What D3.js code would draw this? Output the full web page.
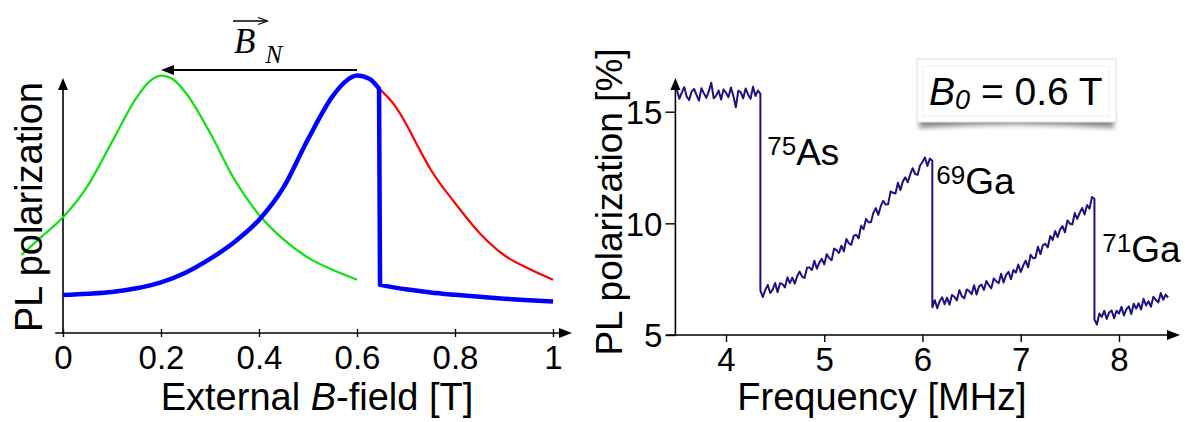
<!DOCTYPE html>
<html><head><meta charset="utf-8">
<script src="https://cdn.jsdelivr.net/npm/d3@7"></script>
<style>
body{margin:0;background:#fff}
svg{display:block}
text{font-family:"Liberation Sans",Arial,sans-serif;fill:#000}
</style>
</head><body>
<svg id="c" width="1185" height="422"></svg>
<script>
// ---------- Left panel data (arbitrary PL units, B in tesla) ----------
const xTicksLeft = [0, 0.2, 0.4, 0.6, 0.8, 1];
const greenCurve = [[-0.085,0.30],[-0.05,0.36],[0,0.445],[0.05,0.565],[0.1,0.735],[0.15,0.905],[0.175,0.965],[0.2,0.99],[0.225,0.975],[0.25,0.925],[0.3,0.77],[0.35,0.59],[0.4,0.455],[0.45,0.36],[0.5,0.29],[0.55,0.243],[0.6,0.205]];
const blueRise = [[0,0.146],[0.05,0.151],[0.1,0.158],[0.15,0.172],[0.2,0.195],[0.25,0.232],[0.3,0.285],[0.35,0.35],[0.4,0.435],[0.45,0.56],[0.5,0.745],[0.55,0.91],[0.575,0.965],[0.6,0.99],[0.625,0.978],[0.645,0.94]];
const blueTail = [[0.647,0.185],[0.7,0.168],[0.75,0.156],[0.8,0.147],[0.85,0.139],[0.9,0.132],[0.95,0.126],[1.0,0.121]];
const redCurve = [[0.645,0.94],[0.675,0.88],[0.7,0.805],[0.725,0.715],[0.75,0.63],[0.8,0.50],[0.85,0.385],[0.9,0.30],[0.95,0.248],[1.0,0.205]];
const shiftArrow = {from:0.6, to:0.2, level:1.012};

// ---------- Right panel data (PL polarization %, frequency MHz) ----------
const xTicksRight = [4,5,6,7,8];
const yTicksRight = [5,10,15];
const freqStep = 0.025;
const segStarts = [3.5, 4.35, 6.1, 7.75];
const seg1 = [15.98,15.58,15.85,16.10,15.68,15.52,15.90,16.02,15.75,15.50,16.05,15.82,15.62,15.92,16.30,15.60,15.72,15.95,15.55,16.00,15.85,15.65,16.08,15.70,15.20,15.94,15.88,15.60,16.04,15.76,15.58,16.12,15.70,15.95,15.80];
const seg2 = [7.00,6.70,7.02,7.24,6.88,7.03,7.33,6.92,7.32,7.28,7.13,7.58,7.32,7.57,7.30,7.64,7.84,7.61,7.55,8.02,8.02,7.91,8.32,7.97,8.24,8.41,8.16,8.62,8.45,8.35,8.87,8.80,8.67,9.00,8.75,9.30,9.11,9.04,9.44,9.49,9.33,9.89,9.74,10.20,10.05,10.05,10.47,10.68,10.38,10.77,11.01,10.84,10.85,11.43,11.37,11.34,11.82,11.49,11.88,12.06,11.84,12.19,12.47,12.21,12.17,12.59,12.75,12.95,12.57,12.90,12.80];
const seg3 = [6.24,6.56,6.20,6.52,6.69,6.38,6.67,6.36,6.79,6.71,6.55,7.01,6.74,6.64,7.04,6.97,6.83,7.23,6.81,7.17,7.26,7.02,7.42,7.23,7.09,7.53,7.41,7.32,7.74,7.35,7.68,7.83,7.50,7.91,7.79,8.16,7.82,8.11,8.33,8.03,8.59,8.44,8.46,8.95,8.62,9.02,9.08,8.92,9.43,9.25,9.66,9.38,9.72,9.88,9.60,10.13,9.99,9.95,10.46,10.20,10.47,10.69,10.40,10.82,10.66,11.18,11.10];
const seg4 = [5.70,5.47,5.96,5.81,6.08,5.72,6.01,6.10,5.75,6.09,5.96,6.26,5.87,6.15,6.28,5.94,6.40,6.18,6.42,6.14,6.62,6.32,6.51,6.27,6.71,6.58,6.46,6.88,6.58,6.81,6.68];
const segments = [seg1, seg2, seg3, seg4];
const peakLabels = [
  {sup:"75", main:"As", f:4.42, v:12.6},
  {sup:"69", main:"Ga", f:6.14, v:11.33},
  {sup:"71", main:"Ga", f:7.83, v:8.25}
];

const svg = d3.select("#c");
const FONT = '"Liberation Sans",Arial,sans-serif';

function arrowHead(g, x, y, dir, len, half) {
  let pts;
  if (dir === "right") pts = [[x,y],[x-len,y-half],[x-len,y+half]];
  else if (dir === "left") pts = [[x,y],[x+len,y-half],[x+len,y+half]];
  else pts = [[x,y],[x-half,y+len],[x+half,y+len]];
  g.append("path").attr("d", "M" + pts.join("L") + "Z").attr("fill", "#000");
}

// ================= LEFT PANEL =================
const xL = d3.scaleLinear().domain([0,1]).range([63,553]);
const yL = d3.scaleLinear().domain([0,1]).range([333,73]);
const gL = svg.append("g");

gL.append("line").attr("x1", xL(-0.016)).attr("x2", 570).attr("y1", yL(0)).attr("y2", yL(0)).attr("stroke","#000").attr("stroke-width",1.6);
arrowHead(gL, 572, yL(0), "right", 13, 5);
gL.append("line").attr("x1", xL(0)).attr("x2", xL(0)).attr("y1", yL(0)+1).attr("y2", 82).attr("stroke","#000").attr("stroke-width",1.6);
arrowHead(gL, xL(0), 78, "up", 12, 5);

const axL = gL.append("g").attr("transform", `translate(0,${yL(0)})`)
  .call(d3.axisBottom(xL).tickValues(xTicksLeft).tickFormat(d3.format("~g")).tickSizeInner(4).tickSizeOuter(0));
axL.attr("font-size", null).attr("font-family", null);
axL.select(".domain").remove();
axL.selectAll(".tick line").attr("y1",-4).attr("y2",4).attr("stroke","#000").attr("stroke-width",1.4);
axL.selectAll(".tick text").attr("y",36).attr("dy",null).style("font-size","33px").style("font-family",FONT).attr("fill","#000");

const lineL = d3.line().x(d => xL(d[0])).y(d => yL(d[1])).curve(d3.curveMonotoneX);
gL.append("path").attr("d", lineL(greenCurve)).attr("fill","none").attr("stroke","#10e010").attr("stroke-width",2.2);
gL.append("path").attr("d", lineL(redCurve)).attr("fill","none").attr("stroke","#ff0000").attr("stroke-width",2.2);
const blueD = lineL(blueRise) + "L" + lineL(blueTail).slice(1);
gL.append("path").attr("d", blueD).attr("fill","none").attr("stroke","#0000ff").attr("stroke-width",4.5).attr("stroke-linejoin","round");

// B_N shift arrow
const ay = yL(shiftArrow.level);
gL.append("line").attr("x1", xL(shiftArrow.from)).attr("x2", xL(shiftArrow.to)+10).attr("y1", ay).attr("y2", ay).attr("stroke","#000").attr("stroke-width",2);
arrowHead(gL, xL(shiftArrow.to), ay, "left", 13, 5);
const bn = gL.append("text").attr("x", 234).attr("y", 53).style("font-family",'"Liberation Serif","Times New Roman",serif');
bn.append("tspan").attr("font-style","italic").style("font-size","35px").text("B");
bn.append("tspan").attr("font-style","italic").style("font-size","25px").attr("dx",10).attr("dy",10).text("N");
gL.append("line").attr("x1",233).attr("x2",266).attr("y1",21).attr("y2",21).attr("stroke","#000").attr("stroke-width",1.3);
gL.append("path").attr("d","M268,21L258,17.5M268,21L258,24.5").attr("stroke","#000").attr("stroke-width",1.3).attr("fill","none");

gL.append("text").attr("x", 317).attr("y", 410).attr("text-anchor","middle").style("font-size","38px")
  .call(t => { t.append("tspan").text("External "); t.append("tspan").attr("font-style","italic").text("B"); t.append("tspan").text("-field [T]"); });
gL.append("text").attr("transform","translate(42,207) rotate(-90)").attr("text-anchor","middle").style("font-size","38px").text("PL polarization");

// ================= RIGHT PANEL =================
const xR = d3.scaleLinear().domain([4,8]).range([726,1119]);
const yR = d3.scaleLinear().domain([5,15]).range([335,111.7]);
const gR = svg.append("g");
const yAxisX = xR(3.485);

gR.append("line").attr("x1", xR(3.39)).attr("x2", 1178).attr("y1", yR(5)).attr("y2", yR(5)).attr("stroke","#000").attr("stroke-width",1.6);
arrowHead(gR, 1180, yR(5), "right", 13, 5);
gR.append("line").attr("x1", yAxisX).attr("x2", yAxisX).attr("y1", yR(5)+1).attr("y2", 82).attr("stroke","#000").attr("stroke-width",1.6);
arrowHead(gR, yAxisX, 78, "up", 12, 5);

const axRx = gR.append("g").attr("transform", `translate(0,${yR(5)})`)
  .call(d3.axisBottom(xR).tickValues(xTicksRight).tickFormat(d3.format("d")).tickSizeInner(7).tickSizeOuter(0));
axRx.attr("font-size", null).attr("font-family", null);
axRx.select(".domain").remove();
axRx.selectAll(".tick line").attr("stroke","#000").attr("stroke-width",1.4);
axRx.selectAll(".tick text").attr("y",36).attr("dy",null).style("font-size","33px").style("font-family",FONT).attr("fill","#000");

const axRy = gR.append("g").attr("transform", `translate(${yAxisX},0)`)
  .call(d3.axisLeft(yR).tickValues(yTicksRight).tickFormat(d3.format("d")).tickSizeInner(10).tickSizeOuter(0));
axRy.attr("font-size", null).attr("font-family", null);
axRy.select(".domain").remove();
axRy.selectAll(".tick line").attr("stroke","#000").attr("stroke-width",1.4);
axRy.selectAll(".tick text").attr("x",-13).attr("dy","0.36em").style("font-size","33px").style("font-family",FONT).attr("fill","#000");

const tracePts = [];
segments.forEach((seg, si) => {
  seg.forEach((v, i) => tracePts.push([segStarts[si] + i * freqStep, v]));
});
const lineR = d3.line().x(d => xR(d[0])).y(d => yR(d[1]));
gR.append("path").attr("d", lineR(tracePts)).attr("fill","none").attr("stroke","#1c1283").attr("stroke-width",2).attr("stroke-linejoin","round");

peakLabels.forEach(p => {
  const t = gR.append("text").attr("x", xR(p.f)).attr("y", yR(p.v));
  t.append("tspan").style("font-size","26px").attr("dy",-10).text(p.sup);
  t.append("tspan").style("font-size","37px").attr("dy",10).text(p.main);
});

gR.append("text").attr("x", 882).attr("y", 410).attr("text-anchor","middle").style("font-size","38px").text("Frequency [MHz]");
gR.append("text").attr("transform","translate(622,202) rotate(-90)").attr("text-anchor","middle").style("font-size","37px").text("PL polarization [%]");

const defs = svg.append("defs");
const f = defs.append("filter").attr("id","blur").attr("x","-20%").attr("y","-50%").attr("width","140%").attr("height","200%");
f.append("feGaussianBlur").attr("stdDeviation",2.5);
gR.append("path").attr("d","M920,112 L1113,112 L1114,128 Q1016,121 919,128 Z").attr("fill","#888").attr("filter","url(#blur)");
gR.append("rect").attr("x",917).attr("y",59).attr("width",199).attr("height",63).attr("fill","#fff").attr("stroke","#e2e2e2").attr("stroke-width",1);
gR.append("rect").attr("x",923).attr("y",66).attr("width",186).attr("height",50).attr("fill","none").attr("stroke","#f0f0f0").attr("stroke-width",1);
const bt = gR.append("text").attr("x",929).attr("y",105).style("font-size","39px");
bt.append("tspan").attr("font-style","italic").text("B");
bt.append("tspan").attr("font-style","italic").style("font-size","27px").attr("dy",4).text("0");
bt.append("tspan").attr("dy",-4).text(" = 0.6 T");
</script>
</body></html>
